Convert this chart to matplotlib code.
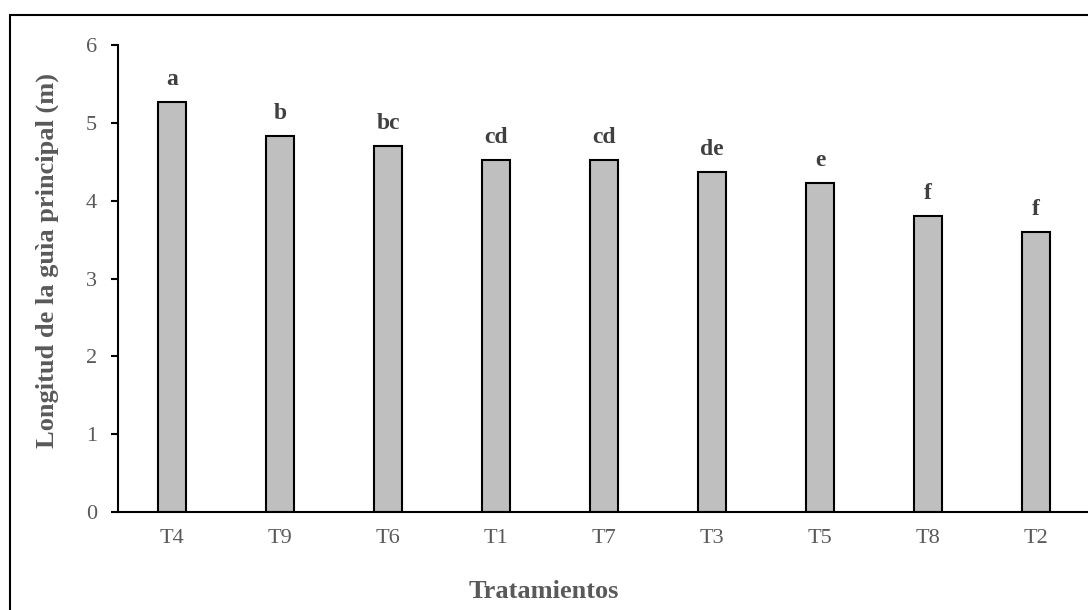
import matplotlib
matplotlib.use("Agg")
import matplotlib.pyplot as plt
from matplotlib.patches import Rectangle

categories = ["T4", "T9", "T6", "T1", "T7", "T3", "T5", "T8", "T2"]
values = [5.27, 4.83, 4.70, 4.52, 4.52, 4.37, 4.23, 3.80, 3.60]
letters = ["a", "b", "bc", "cd", "cd", "de", "e", "f", "f"]

plt.rcParams['font.family'] = ['Liberation Serif', 'DejaVu Serif']

W, H = 1088, 610
fig = plt.figure(figsize=(W/100, H/100), dpi=100)
ax = fig.add_axes([118/W, 1-512/H, 972/W, (512-45)/H])

x = range(len(categories))
ax.bar(x, values, width=0.26, color="#BFBFBF", edgecolor="black", linewidth=1.5, zorder=2)
for xi, v, l in zip(x, values, letters):
    ax.text(xi, v + 0.22, l, ha="center", va="baseline", fontsize=17, fontweight="bold", color="#404040")

ax.set_xlim(-0.5, len(categories) - 0.5)
ax.set_ylim(0, 6)
ax.set_yticks(range(0, 7))
ax.set_xticks(list(x))
ax.set_xticklabels(categories)
for s in ["top", "right"]:
    ax.spines[s].set_visible(False)
ax.spines["left"].set_linewidth(1.5)
ax.spines["bottom"].set_linewidth(1.5)
ax.tick_params(axis="y", direction="out", length=5, width=1.5, labelsize=16, labelcolor="#595959", pad=10)
ax.tick_params(axis="x", length=0, labelsize=16, labelcolor="#595959", pad=12)

fig.text(47/W, 1-261/H, "Longitud de la guìa principal (m)", rotation=90, ha="center", va="center",
         fontsize=19, fontweight="bold", color="#595959")
fig.text(544/W, 1-591/H, "Tratamientos", ha="center", va="center",
         fontsize=19, fontweight="bold", color="#595959")

fig.patches.append(Rectangle((10/W, -10/H), (1100-10)/W, (H-15+10)/H, transform=fig.transFigure,
                             fill=False, edgecolor="black", linewidth=1.5))

fig.savefig("out.png", dpi=100)
